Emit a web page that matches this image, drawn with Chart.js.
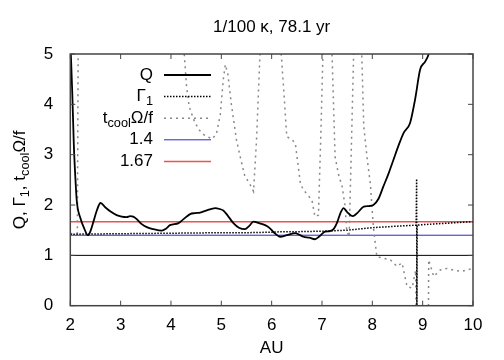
<!DOCTYPE html>
<html>
<head>
<meta charset="utf-8">
<script src="https://cdn.jsdelivr.net/npm/chart.js@4/dist/chart.umd.min.js"></script>
<style>
  html, body { margin: 0; padding: 0; background: #fff; }
  #wrap { width: 504px; height: 360px; }
</style>
</head>
<body>
<div id="wrap"><canvas id="canvas" width="504" height="360"></canvas></div>
<script>
// Q
var qX = [2.00, 2.04, 2.07, 2.10, 2.13, 2.20, 2.27, 2.35, 2.40, 2.46, 2.53, 2.60, 2.70, 2.80, 2.92, 3.02, 3.12, 3.19, 3.25, 3.32, 3.42, 3.52, 3.65, 3.82, 3.90, 3.98, 4.15, 4.25, 4.38, 4.48, 4.58, 4.70, 4.88, 4.97, 5.04, 5.12, 5.24, 5.35, 5.47, 5.55, 5.64, 5.75, 5.87, 5.95, 6.05, 6.17, 6.30, 6.47, 6.55, 6.63, 6.75, 6.86, 6.95, 7.06, 7.16, 7.23, 7.30, 7.37, 7.43, 7.50, 7.61, 7.70, 7.83, 7.93, 8.02, 8.12, 8.22, 8.32, 8.42, 8.52, 8.62, 8.75, 8.85, 8.95, 9.05, 9.12, 9.18];
var qY = [5.30, 4.20, 3.20, 2.55, 2.07, 1.74, 1.55, 1.40, 1.48, 1.67, 1.90, 2.04, 1.95, 1.87, 1.80, 1.77, 1.76, 1.78, 1.77, 1.72, 1.62, 1.56, 1.52, 1.49, 1.53, 1.60, 1.64, 1.72, 1.82, 1.84, 1.85, 1.89, 1.94, 1.92, 1.89, 1.80, 1.64, 1.55, 1.52, 1.58, 1.67, 1.64, 1.60, 1.55, 1.45, 1.37, 1.40, 1.44, 1.41, 1.37, 1.35, 1.32, 1.38, 1.47, 1.48, 1.52, 1.65, 1.85, 1.94, 1.86, 1.78, 1.84, 1.97, 1.98, 2.00, 2.12, 2.37, 2.62, 2.90, 3.18, 3.43, 3.63, 4.10, 4.69, 4.85, 5.00, 5.30];

// Gamma_1
var gX = [2.0, 3.0, 4.0, 5.0, 5.5, 6.0, 6.2, 6.5, 7.0, 7.5, 8.0, 8.5, 8.87, 8.88, 8.885, 8.89, 9.0, 9.5, 10.0];
var gY = [1.42, 1.43, 1.44, 1.45, 1.45, 1.46, 1.47, 1.47, 1.48, 1.50, 1.55, 1.58, 1.60, 2.52, -0.50, 1.60, 1.61, 1.64, 1.67];

// t_cool Omega / f
var tX = [2.00, 2.14, 2.16, 4.20, 4.26, 4.31, 4.36, 4.45, 4.55, 4.65, 4.81, 4.90, 4.98, 5.04, 5.08, 5.13, 5.20, 5.30, 5.40, 5.47, 5.55, 5.64, 5.70, 5.77, 5.80, 6.16, 6.19, 6.24, 6.30, 6.40, 6.47, 6.57, 6.63, 6.70, 6.80, 6.86, 6.93, 6.98, 7.02, 7.05, 7.17, 7.20, 7.26, 7.33, 7.40, 7.46, 7.49, 7.54, 7.58, 7.63, 7.66, 7.76, 7.79, 7.83, 7.90, 7.96, 8.02, 8.09, 8.20, 8.36, 8.49, 8.59, 8.69, 8.79, 8.86, 8.88, 9.11, 9.12, 9.22, 9.35, 9.48, 9.61, 9.77, 9.88, 10.00];
var tY = [1.43, 1.44, 6.00, 6.00, 5.05, 4.35, 3.96, 3.70, 3.50, 3.40, 3.31, 3.40, 3.80, 4.50, 4.79, 4.60, 4.00, 3.30, 2.85, 2.56, 2.45, 2.27, 3.30, 5.05, 6.00, 6.00, 5.00, 4.29, 3.36, 3.30, 3.23, 2.43, 2.30, 2.22, 2.10, 1.77, 1.80, 3.50, 5.05, 6.00, 6.00, 5.00, 2.96, 2.60, 2.37, 1.97, 1.50, 1.37, 3.00, 5.05, 6.00, 6.00, 5.00, 3.56, 2.90, 2.43, 1.57, 0.97, 0.95, 0.91, 0.78, 0.85, 0.38, 0.35, 0.70, -1.00, -1.00, 0.91, 0.58, 0.71, 0.74, 0.71, 0.68, 0.71, 0.74];

// reference levels
var lineX = [2, 10];
var levelOne = 1;
var levelA = 1.4;
var levelB = 1.67;

var xTicks = [2, 3, 4, 5, 6, 7, 8, 9, 10];
var yTicks = [0, 1, 2, 3, 4, 5];

var titleText = '1/100 \u03ba, 78.1 yr';
var xTitle = 'AU';

function pts(xs, ys) {
    return xs.map(function (x, i) { return { x: x, y: ys[i] }; });
}
function flat(v) {
    return lineX.map(function (x) { return { x: x, y: v }; });
}

var FONT = '"Liberation Sans", Arial, sans-serif';
var FS = 17;

// draws a string made of parts [text, isSub]
function richWidth(ctx, parts, size) {
    var w = 0;
    parts.forEach(function (p) {
        ctx.font = (p[1] ? size * 0.75 : size) + 'px ' + FONT;
        w += ctx.measureText(p[0]).width;
    });
    return w;
}
function richDraw(ctx, parts, x, y, size) {
    parts.forEach(function (p) {
        ctx.font = (p[1] ? size * 0.75 : size) + 'px ' + FONT;
        ctx.fillText(p[0], x, p[1] ? y + size * 0.3 : y);
        x += ctx.measureText(p[0]).width;
    });
}

var legendItems = [
    { parts: [['Q', 0]], color: '#000', width: 1.8, dash: [] },
    { parts: [['\u0393', 0], ['1', 1]], color: '#000', width: 1.5, dash: [1.5, 1.5] },
    { parts: [['t', 0], ['cool', 1], ['\u03a9/f', 0]], color: '#888', width: 1.5, dash: [2, 4] },
    { parts: [['1.4', 0]], color: '#2a2ac8', width: 1, dash: [] },
    { parts: [['1.67', 0]], color: '#f05050', width: 1.5, dash: [] }
];

var decor = {
    id: 'decor',
    afterDraw: function (chart) {
        var ctx = chart.ctx;
        var a = chart.chartArea;
        var xs = chart.scales.x, ys = chart.scales.y;
        ctx.save();

        // frame
        ctx.strokeStyle = '#444';
        ctx.lineWidth = 1.5;
        ctx.setLineDash([]);
        ctx.strokeRect(a.left, a.top, a.right - a.left, a.bottom - a.top);

        // inward ticks
        ctx.lineWidth = 1;
        ctx.beginPath();
        xTicks.forEach(function (v) {
            var px = xs.getPixelForValue(v);
            ctx.moveTo(px, a.bottom); ctx.lineTo(px, a.bottom - 5);
            ctx.moveTo(px, a.top); ctx.lineTo(px, a.top + 5);
        });
        yTicks.forEach(function (v) {
            var py = ys.getPixelForValue(v);
            ctx.moveTo(a.left, py); ctx.lineTo(a.left + 5, py);
            ctx.moveTo(a.right, py); ctx.lineTo(a.right - 5, py);
        });
        ctx.stroke();

        ctx.fillStyle = '#000';
        ctx.textBaseline = 'middle';

        // title
        ctx.font = FS + 'px ' + FONT;
        ctx.textAlign = 'center';
        ctx.fillText(titleText, (a.left + a.right) / 2, 27);
        // x title
        ctx.fillText(xTitle, (a.left + a.right) / 2, 348);

        // y title
        var yParts = [['Q, \u0393', 0], ['1', 1], [', t', 0], ['cool', 1], ['\u03a9/f', 0]];
        ctx.save();
        ctx.translate(20, (a.top + a.bottom) / 2);
        ctx.rotate(-Math.PI / 2);
        ctx.textAlign = 'left';
        var w = richWidth(ctx, yParts, FS);
        richDraw(ctx, yParts, -w / 2, 0, FS);
        ctx.restore();

        // legend
        ctx.textAlign = 'left';
        legendItems.forEach(function (it, i) {
            var y = 75 + i * 21.6;
            var tw = richWidth(ctx, it.parts, FS);
            richDraw(ctx, it.parts, 153 - tw, y, FS);
            ctx.beginPath();
            ctx.strokeStyle = it.color;
            ctx.lineWidth = it.width;
            ctx.setLineDash(it.dash);
            ctx.moveTo(164, y); ctx.lineTo(211, y);
            ctx.stroke();
        });
        ctx.restore();
    }
};

var ctx = document.getElementById('canvas');
var myChart = new Chart(ctx, {
    type: 'line',
    data: {
        datasets: [
            { label: 'Q', data: pts(qX, qY), borderColor: '#000', borderWidth: 1.8, cubicInterpolationMode: 'monotone' },
            { label: 'G1', data: pts(gX, gY), borderColor: '#000', borderWidth: 1.5, borderDash: [1.5, 1.5], tension: 0 },
            { label: 'tcool', data: pts(tX, tY), borderColor: '#888', borderWidth: 1.5, borderDash: [2, 4], tension: 0 },
            { label: 'one', data: flat(levelOne), borderColor: '#000', borderWidth: 1 },
            { label: '1.4', data: flat(levelA), borderColor: '#2a2ac8', borderWidth: 1 },
            { label: '1.67', data: flat(levelB), borderColor: '#f05050', borderWidth: 1.5 }
        ]
    },
    options: {
        responsive: false,
        animation: false,
        events: [],
        elements: { point: { radius: 0 } },
        layout: { padding: { top: 54, right: 31, left: 0, bottom: 0 } },
        plugins: {
            legend: { display: false },
            title: { display: false },
            tooltip: { enabled: false }
        },
        scales: {
            x: {
                type: 'linear',
                min: 2, max: 10,
                afterBuildTicks: function (s) { s.ticks = xTicks.map(function (v) { return { value: v }; }); },
                afterFit: function (s) { s.height = 54.3; },
                grid: { display: false, drawTicks: false },
                border: { display: false },
                ticks: { color: '#000', font: { family: FONT, size: FS }, padding: 9, maxRotation: 0 }
            },
            y: {
                min: 0, max: 5,
                afterBuildTicks: function (s) { s.ticks = yTicks.map(function (v) { return { value: v }; }); },
                afterFit: function (s) { s.width = 70.3; },
                grid: { display: false, drawTicks: false },
                border: { display: false },
                ticks: { color: '#000', font: { family: FONT, size: FS }, padding: 17 }
            }
        }
    },
    plugins: [decor]
});
</script>
</body>
</html>
